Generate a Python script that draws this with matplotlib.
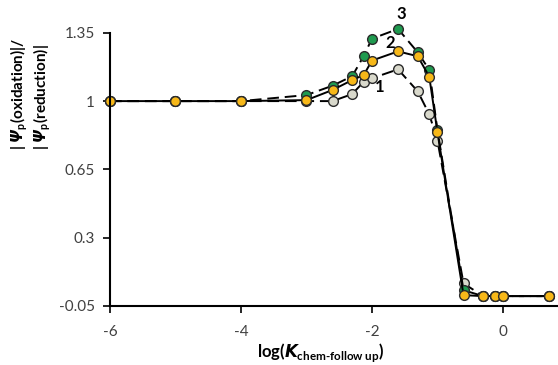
import matplotlib

matplotlib.use("Agg")
import matplotlib.pyplot as plt
import numpy as np

plt.rcParams["font.family"] = ["Lato", "DejaVu Sans"]
plt.rcParams["mathtext.fontset"] = "custom"
plt.rcParams["mathtext.rm"] = "Lato:bold"
plt.rcParams["mathtext.bf"] = "Lato:bold"
plt.rcParams["mathtext.it"] = "DejaVu Sans:italic:bold"
plt.rcParams["mathtext.cal"] = "DejaVu Sans:italic:bold"

TICK = "#404040"
GREY = "#d9d9cc"
YELLOW = "#f7b819"
GREEN = "#1f9a4f"

# rate constants of the follow-up chemical step
k_chem = [1e-6, 1e-5, 1e-4, 1e-3, 2.5e-3, 5e-3, 7.5e-3, 1e-2, 2.5e-2,
          5e-2, 7.5e-2, 0.1, 0.25, 0.5, 0.75, 1.0, 5.0]
log_k = np.log10(k_chem)

ratio_1 = [1.0, 1.0, 1.0, 1.0, 1.0, 1.036, 1.10, 1.117, 1.163,
           1.05, 0.932, 0.797, 0.065, 0.0, 0.0, 0.0, 0.0]
ratio_2 = [1.0, 1.0, 1.0, 1.005, 1.057, 1.108, 1.134, 1.208, 1.255,
           1.23, 1.125, 0.84, 0.005, 0.0, 0.0, 0.0, 0.0]
ratio_3 = [1.0, 1.0, 1.0, 1.031, 1.079, 1.128, 1.232, 1.32, 1.37,
           1.25, 1.16, 0.85, 0.03, 0.0, 0.0, 0.0, 0.0]

y_ticks = [-0.05, 0.3, 0.65, 1.0, 1.35]
y_tick_labels = ["-0.05", "0.3", "0.65", "1", "1.35"]
x_ticks = [-6, -4, -2, 0]
x_tick_labels = ["-6", "-4", "-2", "0"]

fig = plt.figure(figsize=(5.58, 3.65), dpi=100)
ax = fig.add_axes([0.197, 0.162, 0.803, 0.748])

series = [
    (ratio_1, GREY, (0, (6, 3)), "1"),
    (ratio_3, GREEN, (0, (6, 3)), "3"),
    (ratio_2, YELLOW, "-", "2"),
]
for values, color, style, _name in series:
    ax.plot(log_k, values, color="black", linestyle=style, linewidth=1.4,
            marker="o", markersize=7, markerfacecolor=color,
            markeredgecolor="#2b2b2b", markeredgewidth=1.0, clip_on=False)

# curve labels next to the peak
for text, x, y in [("3", -1.55, 1.445), ("2", -1.72, 1.30), ("1", -1.88, 1.07)]:
    ax.text(x, y, text, fontsize=12, fontweight="bold", ha="center", va="center")

ax.set_xlim(-6, 0.84)
ax.set_ylim(-0.05, 1.35)
ax.set_xticks(x_ticks)
ax.set_xticklabels(x_tick_labels)
ax.set_yticks(y_ticks)
ax.set_yticklabels(y_tick_labels)
ax.tick_params(direction="out", length=5, width=1.2, labelsize=11,
               labelcolor=TICK)
ax.tick_params(axis="x", pad=9)
ax.tick_params(axis="y", pad=6)

for spine in ["top", "right"]:
    ax.spines[spine].set_visible(False)
for spine in ["left", "bottom"]:
    ax.spines[spine].set_linewidth(1.5)

ax.set_xlabel(r"log($\mathit{K}_\text{chem-follow up}$)", fontsize=12,
              fontweight="bold")
ax.xaxis.set_label_coords(0.47, -0.128)
ax.set_ylabel("| $\\mathcal{Ψ}_\\text{p}$(oxidation)|/\n"
              "| $\\mathcal{Ψ}_\\text{p}$(reduction)|",
              fontsize=11, fontweight="bold", linespacing=1.05,
              multialignment="left")
ax.yaxis.set_label_coords(-0.128, 0.775)

fig.savefig("out.png", dpi=100)
